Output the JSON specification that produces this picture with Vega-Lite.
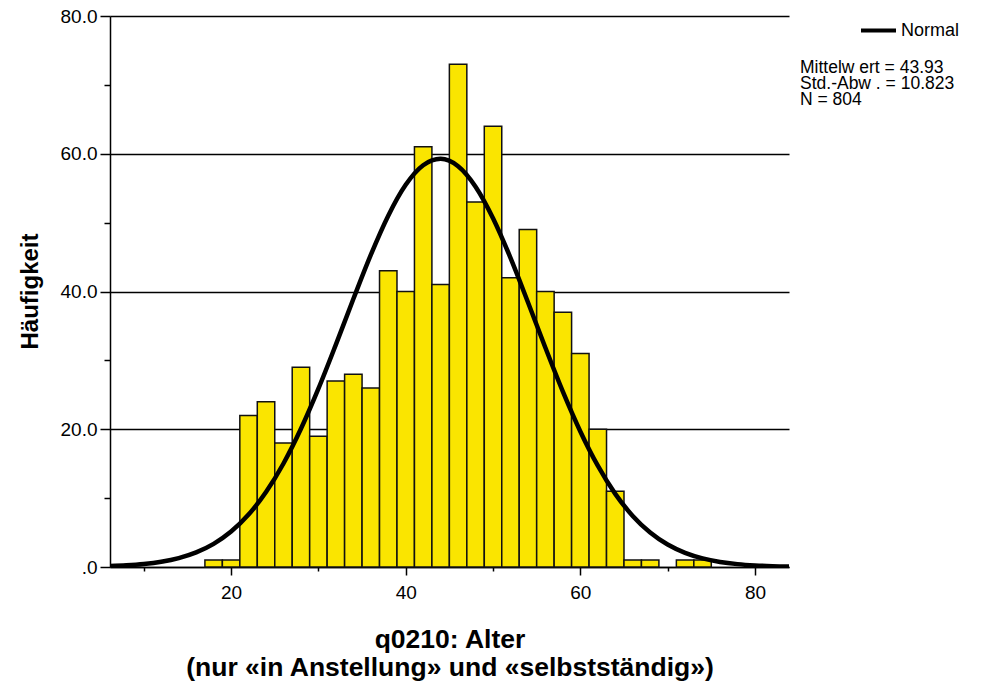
{
  "$schema": "https://vega.github.io/schema/vega-lite/v6.json",
  "width": 679,
  "height": 551,
  "autosize": {"type": "none"},
  "padding": {"left": 110, "top": 16, "right": 206, "bottom": 116},
  "background": "white",
  "config": {
    "view": {"stroke": null},
    "font": "Liberation Sans",
    "axis": {"labelFont": "Liberation Sans", "titleFont": "Liberation Sans", "labelColor": "black", "titleColor": "black", "domainColor": "black", "tickColor": "black", "gridColor": "black"}
  },
  "datasets": {
    "bins": [
      {"start": 17, "end": 19, "count": 1},
      {"start": 19, "end": 21, "count": 1},
      {"start": 21, "end": 23, "count": 22},
      {"start": 23, "end": 25, "count": 24},
      {"start": 25, "end": 27, "count": 18},
      {"start": 27, "end": 29, "count": 29},
      {"start": 29, "end": 31, "count": 19},
      {"start": 31, "end": 33, "count": 27},
      {"start": 33, "end": 35, "count": 28},
      {"start": 35, "end": 37, "count": 26},
      {"start": 37, "end": 39, "count": 43},
      {"start": 39, "end": 41, "count": 40},
      {"start": 41, "end": 43, "count": 61},
      {"start": 43, "end": 45, "count": 41},
      {"start": 45, "end": 47, "count": 73},
      {"start": 47, "end": 49, "count": 53},
      {"start": 49, "end": 51, "count": 64},
      {"start": 51, "end": 53, "count": 42},
      {"start": 53, "end": 55, "count": 49},
      {"start": 55, "end": 57, "count": 40},
      {"start": 57, "end": 59, "count": 37},
      {"start": 59, "end": 61, "count": 31},
      {"start": 61, "end": 63, "count": 20},
      {"start": 63, "end": 65, "count": 11},
      {"start": 65, "end": 67, "count": 1},
      {"start": 67, "end": 69, "count": 1},
      {"start": 71, "end": 73, "count": 1},
      {"start": 73, "end": 75, "count": 1}
    ],
    "normal": [
      {"x": 6, "y": 0.128}, {"x": 8, "y": 0.240}, {"x": 10, "y": 0.435}, {"x": 12, "y": 0.764},
      {"x": 14, "y": 1.295}, {"x": 16, "y": 2.122}, {"x": 18, "y": 3.361}, {"x": 20, "y": 5.143},
      {"x": 22, "y": 7.608}, {"x": 24, "y": 10.876}, {"x": 26, "y": 15.027}, {"x": 28, "y": 20.065},
      {"x": 30, "y": 25.888}, {"x": 32, "y": 32.284}, {"x": 34, "y": 38.908}, {"x": 36, "y": 45.318},
      {"x": 38, "y": 51.009}, {"x": 40, "y": 55.489}, {"x": 42, "y": 58.335}, {"x": 44, "y": 59.27},
      {"x": 46, "y": 58.196}, {"x": 48, "y": 55.223}, {"x": 50, "y": 50.645}, {"x": 52, "y": 44.886},
      {"x": 54, "y": 38.447}, {"x": 56, "y": 31.824}, {"x": 58, "y": 25.459}, {"x": 60, "y": 19.684},
      {"x": 62, "y": 14.708}, {"x": 64, "y": 10.620}, {"x": 66, "y": 7.411}, {"x": 68, "y": 4.998},
      {"x": 70, "y": 3.258}, {"x": 72, "y": 2.052}, {"x": 74, "y": 1.249}, {"x": 76, "y": 0.735},
      {"x": 78, "y": 0.418}, {"x": 80, "y": 0.230}, {"x": 82, "y": 0.122}, {"x": 84, "y": 0.063}
    ]
  },
  "layer": [
    {
      "data": {"name": "bins"},
      "mark": {"type": "rect", "color": "#FAE500", "stroke": "#111111", "strokeWidth": 1.5},
      "encoding": {
        "x": {
          "field": "start", "type": "quantitative",
          "scale": {"domain": [6.13, 83.9], "nice": false, "zero": false},
          "axis": {
            "values": [10, 20, 30, 40, 50, 60, 70, 80],
            "labelExpr": "datum.value % 20 == 0 ? datum.label : ''",
            "labelFontSize": 19,
            "labelPadding": 8,
            "tickSize": {"condition": {"test": "datum.value % 20 != 0", "value": 4}, "value": 8},
            "tickWidth": 1.5,
            "domainWidth": 1.5,
            "grid": false,
            "title": ["q0210: Alter", "(nur «in Anstellung» und «selbstständig»)"],
            "titleFontSize": 26.5,
            "titleFontWeight": "bold",
            "titleLineHeight": 28,
            "titlePadding": 24
          }
        },
        "x2": {"field": "end"},
        "y": {
          "field": "count", "type": "quantitative",
          "scale": {"domain": [0, 80], "nice": false},
          "axis": {
            "values": [0, 10, 20, 30, 40, 50, 60, 70, 80],
            "labelExpr": "datum.value % 20 != 0 ? '' : (datum.value == 0 ? '.0' : format(datum.value, '.1f'))",
            "labelFontSize": 19,
            "labelPadding": 3,
            "tickSize": {"condition": {"test": "datum.value % 20 != 0", "value": 6}, "value": 10},
            "tickWidth": 1.5,
            "domainWidth": 1.5,
            "grid": true,
            "gridWidth": 1.3,
            "gridOpacity": {"condition": {"test": "datum.value % 20 != 0", "value": 0}, "value": 1},
            "title": "Häufigkeit",
            "titleFontSize": 24,
            "titleFontWeight": "bold",
            "titleAngle": -90,
            "titleBaseline": "alphabetic",
            "titleX": -73,
            "titleY": 275
          }
        },
        "y2": {"datum": 0}
      }
    },
    {
      "data": {"name": "normal"},
      "mark": {"type": "line", "strokeWidth": 4.5, "interpolate": "monotone", "clip": true},
      "encoding": {
        "x": {"field": "x", "type": "quantitative"},
        "y": {"field": "y", "type": "quantitative"},
        "stroke": {
          "datum": "Normal",
          "scale": {"range": ["black"]},
          "legend": {
            "orient": "none",
            "legendX": 690,
            "legendY": -5,
            "padding": 0,
            "title": ["Mittelw ert = 43.93", "Std.-Abw . = 10.823", "N = 804"],
            "titleOrient": "bottom",
            "titleAnchor": "start",
            "titleAlign": "left",
            "titleFont": "Liberation Sans",
            "titleFontSize": 17.5,
            "titleFontWeight": "normal",
            "titleLineHeight": 16,
            "titleColor": "black",
            "titlePadding": 19,
            "titleLimit": 400,
            "symbolType": "stroke",
            "symbolSize": 1225,
            "symbolStrokeWidth": 4,
            "symbolStrokeColor": "black",
            "symbolOffset": 59,
            "labelOffset": 3,
            "labelFont": "Liberation Sans",
            "labelFontSize": 18,
            "labelColor": "black"
          }
        }
      }
    }
  ]
}
